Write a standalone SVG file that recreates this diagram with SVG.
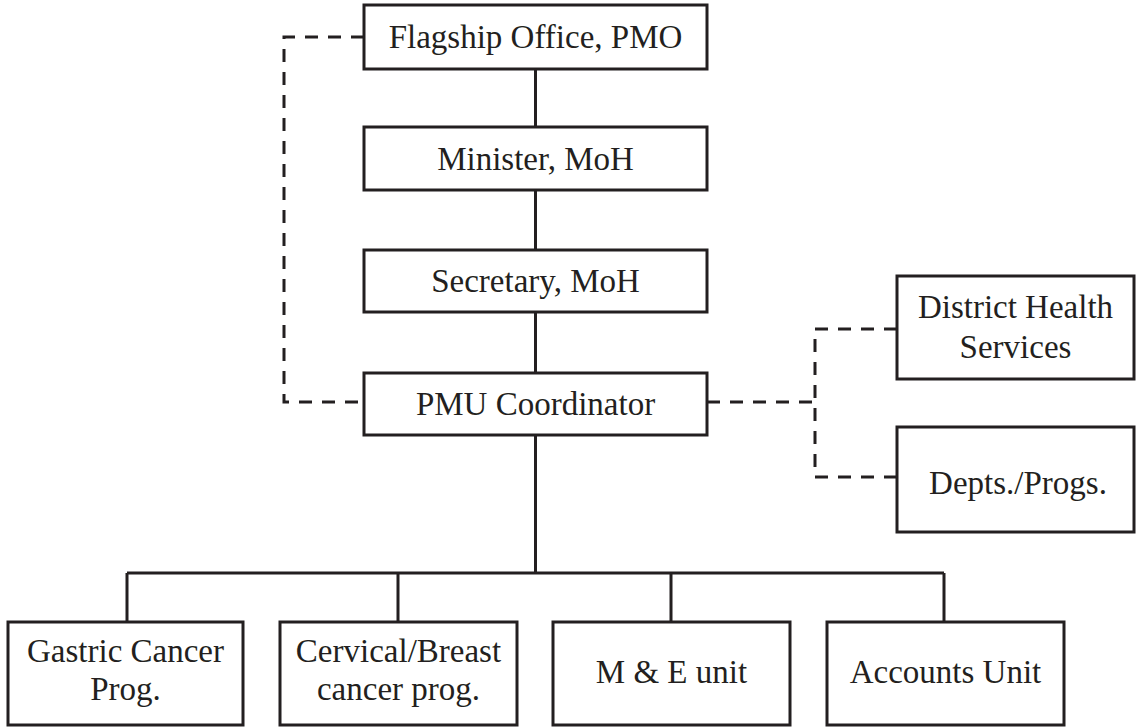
<svg xmlns="http://www.w3.org/2000/svg" width="1142" height="727" viewBox="0 0 1142 727">
<style>
  .box { fill: #ffffff; stroke: #231f20; stroke-width: 3; }
  .lbl { font-family: "Liberation Serif", "Times New Roman", serif; font-size: 33px; fill: #231f20; text-anchor: middle; }
  .solid { fill: none; stroke: #231f20; stroke-width: 3; }
  .dash { fill: none; stroke: #231f20; stroke-width: 3; stroke-dasharray: 13 10; }
</style>
<rect width="1142" height="727" fill="#ffffff"/>
<g id="connectors">
  <path class="solid" d="M535.5 69 V127 M535.5 190 V250 M535.5 312 V373 M535.5 435 V573 M127 573 H944 M127 573 V622 M398 573 V622 M671 573 V622 M944 573 V622"/>
  <path class="dash" d="M364 37 H284 V402 H364"/>
  <path class="dash" d="M707 402 H815"/>
  <path class="dash" d="M897 329 H815 V477 H897"/>
</g>
<g id="flagship">
  <rect class="box" x="364" y="5" width="343" height="64"/>
  <text class="lbl" x="535.5" y="48">Flagship Office, PMO</text>
</g>
<g id="minister">
  <rect class="box" x="364" y="127" width="343" height="63"/>
  <text class="lbl" x="535.5" y="170">Minister, MoH</text>
</g>
<g id="secretary">
  <rect class="box" x="364" y="250" width="343" height="62"/>
  <text class="lbl" x="535.5" y="292">Secretary, MoH</text>
</g>
<g id="pmu">
  <rect class="box" x="364" y="373" width="343" height="62"/>
  <text class="lbl" x="535.5" y="415">PMU Coordinator</text>
</g>
<g id="district">
  <rect class="box" x="897" y="276" width="237" height="103"/>
  <text class="lbl" x="1015.5" y="318">District Health</text>
  <text class="lbl" x="1015.5" y="358">Services</text>
</g>
<g id="depts">
  <rect class="box" x="897" y="427" width="237" height="105"/>
  <text class="lbl" x="1018" y="494">Depts./Progs.</text>
</g>
<g id="gastric">
  <rect class="box" x="8" y="622" width="235" height="103"/>
  <text class="lbl" x="125.5" y="662">Gastric Cancer</text>
  <text class="lbl" x="125.5" y="700">Prog.</text>
</g>
<g id="cervical">
  <rect class="box" x="280" y="622" width="237" height="103"/>
  <text class="lbl" x="398.5" y="662">Cervical/Breast</text>
  <text class="lbl" x="398.5" y="700">cancer prog.</text>
</g>
<g id="me">
  <rect class="box" x="553" y="622" width="237" height="103"/>
  <text class="lbl" x="671.5" y="683">M &amp; E unit</text>
</g>
<g id="accounts">
  <rect class="box" x="827" y="622" width="237" height="103"/>
  <text class="lbl" x="945.5" y="683">Accounts Unit</text>
</g>
</svg>
